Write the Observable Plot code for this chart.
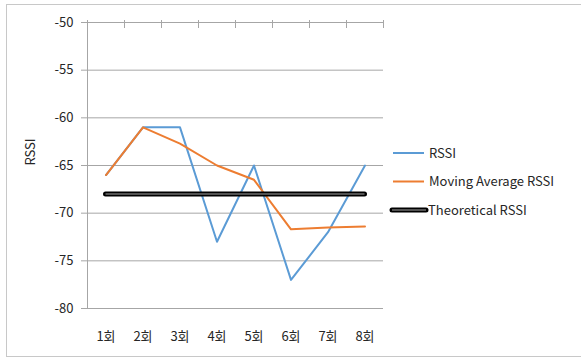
<!DOCTYPE html>
<html>
<head>
<meta charset="utf-8">
<script src="https://cdn.jsdelivr.net/npm/d3@7"></script>
<script src="https://cdn.jsdelivr.net/npm/@observablehq/plot@0.6"></script>
<style>
  html, body { margin: 0; padding: 0; background: #fff; overflow: hidden; }
  #wrap { position: relative; width: 581px; height: 359px; font-family: "Noto Sans CJK KR", "Noto Sans", sans-serif; }
  #frame { position: absolute; left: 6px; top: 4px; width: 600px; height: 353px; border: 1px solid #c8c8c8; box-sizing: border-box; }
  #chart { position: absolute; left: 0; top: 0; }
  #legend { position: absolute; left: 0; top: 0; }
</style>
</head>
<body>
<div id="wrap">
  <div id="frame"></div>
  <div id="chart"></div>
  <svg id="legend" width="581" height="359"></svg>
</div>
<script>
// Measurement rounds and signal strength readings (dBm)
const rounds = ["1회", "2회", "3회", "4회", "5회", "6회", "7회", "8회"];
const rssi = [-66, -61, -61, -73, -65, -77, -72, -65];
const movingAvg = [-66, -61, -62.7, -65, -66.5, -71.7, -71.5, -71.4];
const theoretical = -68;
const yTicks = [-50, -55, -60, -65, -70, -75, -80];

const seriesNames = ["RSSI", "Moving Average RSSI", "Theoretical RSSI"];
const seriesColors = ["#5b9bd5", "#ed7d31", "#000000"];

const rows = rounds.map((r, i) => ({ i: i + 1, round: r, rssi: rssi[i], avg: movingAvg[i] }));
// category boundaries for the tick marks along the top axis
const boundaries = d3.range(0.5, rounds.length + 1, 1);
const xMin = boundaries[0];
const xMax = boundaries[boundaries.length - 1];
const grid = "#a6a6a6";
const textColor = "#262626";
const font = '"Noto Sans CJK KR", "Noto Sans", sans-serif';

const chart = Plot.plot({
  width: 581,
  height: 359,
  marginLeft: 87,
  marginRight: 198,
  marginTop: 22,
  marginBottom: 51,
  style: { fontFamily: font, fontSize: "13px", color: textColor, background: "transparent" },
  x: {
    type: "linear",
    domain: [xMin, xMax],
    ticks: rows.map(d => d.i),
    tickFormat: i => rounds[i - 1],
    tickSize: 0,
    tickPadding: 23,
    label: null
  },
  y: {
    domain: [yTicks[yTicks.length - 1], yTicks[0]],
    ticks: yTicks,
    tickFormat: d => String(d),
    tickSize: 0,
    tickPadding: 14,
    label: null
  },
  marks: [
    // horizontal gridlines, including the top and bottom axis lines
    Plot.ruleY(yTicks, { x1: xMin, x2: xMax, stroke: grid, strokeWidth: 1 }),
    // vertical value axis with outward tick marks
    Plot.ruleX([xMin], { y1: yTicks[yTicks.length - 1], y2: yTicks[0], stroke: grid, strokeWidth: 1 }),
    Plot.ruleY(yTicks, { x1: xMin, x2: xMin, insetLeft: -6, stroke: grid, strokeWidth: 1 }),
    // category tick marks on the top line
    Plot.ruleX(boundaries, { y1: yTicks[0], y2: yTicks[0], insetTop: -2, insetBottom: -6, stroke: grid, strokeWidth: 1 }),
    // data series
    Plot.line(rows, { x: "i", y: "rssi", stroke: seriesColors[0], strokeWidth: 2 }),
    Plot.line(rows, { x: "i", y: "avg", stroke: seriesColors[1], strokeWidth: 2 }),
    Plot.ruleY([theoretical], { x1: 1, x2: rounds.length, stroke: "#000", strokeWidth: 5, strokeLinecap: "round" }),
    Plot.ruleY([theoretical], { x1: 1, x2: rounds.length, stroke: "#6e6e6e", strokeWidth: 1.5 }),
    // value axis title
    Plot.text(["RSSI"], { frameAnchor: "left", rotate: -90, dx: -57, fill: textColor, fontSize: 13 })
  ]
});
document.getElementById("chart").appendChild(chart);

// legend on the right side
const legend = d3.select("#legend");
const legendY = [153, 181.5, 210];
seriesNames.forEach((name, k) => {
  const g = legend.append("g").attr("transform", `translate(0,${legendY[k]})`);
  if (k < 2) {
    g.append("line").attr("x1", 393).attr("x2", 424).attr("y1", 0).attr("y2", 0)
      .attr("stroke", seriesColors[k]).attr("stroke-width", 2);
  } else {
    g.append("line").attr("x1", 392).attr("x2", 426).attr("y1", 0).attr("y2", 0)
      .attr("stroke", "#000").attr("stroke-width", 5).attr("stroke-linecap", "round");
    g.append("line").attr("x1", 392).attr("x2", 426).attr("y1", 0).attr("y2", 0)
      .attr("stroke", "#6e6e6e").attr("stroke-width", 1.5);
  }
  g.append("text").attr("x", k < 2 ? 429 : 428).attr("y", 0).attr("dy", "0.35em")
    .attr("fill", textColor).attr("font-family", font).attr("font-size", 13)
    .text(name);
});
</script>
</body>
</html>
